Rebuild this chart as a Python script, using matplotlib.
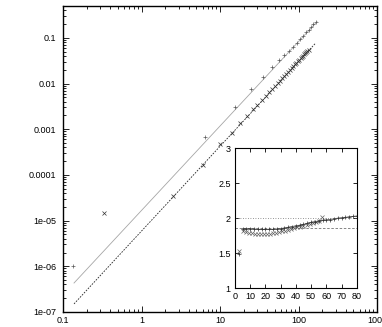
import matplotlib
matplotlib.use("Agg")
import matplotlib.pyplot as plt
from matplotlib.ticker import LogLocator, NullFormatter, MultipleLocator

plt.rcParams['font.family'] = ['Liberation Sans', 'DejaVu Sans']
plt.rcParams['font.size'] = 6.5

# main panel, "+" series and its fit line
plus_t = [0.135, 6.5, 15.5, 25, 35, 45.5, 56, 65.5, 75.5, 85, 94.5, 104.5,
          114.5, 124.5, 134.5, 144.5, 154.5, 164.5]
plus_v = [1.0e-6, 6.7e-4, 3.05e-3, 7.6e-3, 0.0139, 0.0231, 0.0328, 0.0423,
          0.0518, 0.0634, 0.0776, 0.095, 0.112, 0.131, 0.151, 0.173, 0.196, 0.22]
fit_plus_t = [0.138, 172]
fit_plus_v = [4.3e-7, 0.225]

# main panel, "x" series and its fit line
cross_t = [0.33, 2.5, 6, 10, 14, 18, 22, 26, 30, 34, 38, 42, 46, 50, 54, 58,
           62, 66, 70, 74, 78, 82, 86, 90, 94, 98, 102, 106, 110, 114, 118,
           122, 126, 130, 134]
cross_v = [1.5e-5, 3.5e-5, 1.65e-4, 4.7e-4, 8.3e-4, 1.38e-3, 1.95e-3, 2.7e-3,
           3.4e-3, 4.3e-3, 5.3e-3, 6.4e-3, 7.5e-3, 8.8e-3, 0.0102, 0.0116,
           0.0131, 0.0148, 0.0165, 0.0182, 0.0201, 0.0221, 0.0241, 0.0263,
           0.0285, 0.0308, 0.0332, 0.0356, 0.0382, 0.0408, 0.0435, 0.0463,
           0.0491, 0.0520, 0.0551]
fit_cross_t = [0.138, 162]
fit_cross_v = [1.5e-7, 0.074]

# inset: local exponent
in_plus_t = [3, 5, 7.5, 10, 12.5, 15, 17.5, 20, 22.5, 25, 27.5, 30, 32.5, 35,
             37.5, 40, 42.5, 45, 47.5, 50, 52.5, 55, 57.5, 60, 62.5, 65, 67.5,
             70, 72.5, 75, 77.5, 80]
in_plus_v = [1.49, 1.85, 1.85, 1.85, 1.845, 1.84, 1.84, 1.84, 1.84, 1.84,
             1.845, 1.85, 1.86, 1.87, 1.88, 1.89, 1.90, 1.91, 1.925, 1.94,
             1.95, 1.96, 1.97, 1.975, 1.98, 1.99, 2.0, 2.005, 2.01, 2.02,
             2.025, 2.03]
in_cross_t = [3, 5, 7, 9, 11, 13, 15, 17, 19, 21, 23, 25, 27, 29, 31, 33, 35,
              37, 39, 41, 43, 45, 47, 49, 51, 53, 55, 57]
in_cross_v = [1.53, 1.81, 1.80, 1.79, 1.785, 1.78, 1.78, 1.775, 1.775, 1.78,
              1.78, 1.785, 1.79, 1.80, 1.81, 1.82, 1.835, 1.85, 1.86, 1.87,
              1.88, 1.89, 1.905, 1.915, 1.93, 1.945, 1.96, 2.02]
ref_levels = [2.0, 1.857]

y_ticks = [1e-7, 1e-6, 1e-5, 1e-4, 1e-3, 1e-2, 1e-1]
y_labels = ['1e-07', '1e-06', '1e-05', '0.0001', '0.001', '0.01', '0.1']
x_ticks = [0.1, 1, 10, 100, 1000]
x_labels = ['0.1', '1', '10', '100', '1000']

fig = plt.figure(figsize=(3.82, 3.27), dpi=100)
ax = fig.add_axes([0.165, 0.046, 0.822, 0.936])
ax.set_xscale('log')
ax.set_yscale('log')
ax.set_xlim(0.1, 1000)
ax.set_ylim(1e-7, 0.5)

ax.plot(fit_plus_t, fit_plus_v, '-', color='0.65', lw=0.6)
ax.plot(fit_cross_t, fit_cross_v, color='0.15', lw=0.6, dashes=(2, 1.5))
ax.plot(plus_t, plus_v, '+', color='0.35', ms=3.5, mew=0.5, ls='none')
ax.plot(cross_t, cross_v, 'x', color='0.2', ms=2.5, mew=0.5, ls='none')

ax.set_xticks(x_ticks)
ax.set_xticklabels(x_labels)
ax.set_yticks(y_ticks)
ax.set_yticklabels(y_labels)
ax.xaxis.set_minor_locator(LogLocator(base=10, subs=range(2, 10)))
ax.yaxis.set_minor_locator(LogLocator(base=10, subs=range(2, 10)))
ax.xaxis.set_minor_formatter(NullFormatter())
ax.yaxis.set_minor_formatter(NullFormatter())
ax.tick_params(which='both', direction='in', top=True, right=True, width=0.6)
ax.tick_params(which='major', length=4, labelsize=6.5)
ax.tick_params(axis='y', which='major', pad=5)
ax.tick_params(axis='x', which='major', pad=3)
ax.tick_params(which='minor', length=2)
for s in ax.spines.values():
    s.set_linewidth(1.0)

# inset
ins = fig.add_axes([0.615, 0.119, 0.319, 0.428])
ins.set_xlim(0, 80)
ins.set_ylim(1, 3)
for lv, ds in zip(ref_levels, [(1, 2), (3, 2)]):
    ins.axhline(lv, color='0.45', lw=0.6, dashes=ds)
ins.plot(in_cross_t, in_cross_v, 'x', color='0.4', ms=2.5, mew=0.5, ls='none')
ins.plot(in_plus_t[1:], in_plus_v[1:], '-', color='0.2', lw=0.5)
ins.plot(in_plus_t, in_plus_v, '+', color='0.2', ms=3.5, mew=0.5, ls='none')
ins.xaxis.set_major_locator(MultipleLocator(10))
ins.set_yticks([1, 1.5, 2, 2.5, 3])
ins.set_yticklabels(['1', '1.5', '2', '2.5', '3'])
ins.tick_params(direction='in', top=True, right=True, length=3, width=0.6,
                pad=3, labelsize=6.5)
for s in ins.spines.values():
    s.set_linewidth(0.8)

fig.savefig('out.png', dpi=100)
